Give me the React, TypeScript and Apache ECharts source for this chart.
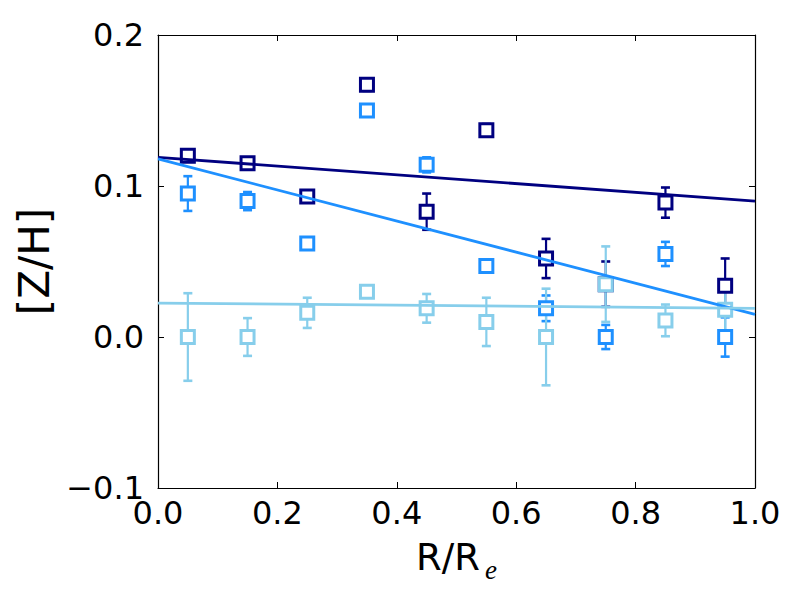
import React, { useEffect, useRef } from "react";
import * as echarts from "echarts";

const radii = [0.05, 0.15, 0.25, 0.35, 0.45, 0.55, 0.65, 0.75, 0.85, 0.95];

const navyValues = [0.12, 0.115, 0.093, 0.167, 0.083, 0.137, 0.052, 0.035, 0.089, 0.034];
const navyErrors = [0.003, 0.003, 0.003, 0.004, 0.012, 0.004, 0.013, 0.015, 0.01, 0.018];

const blueValues = [0.095, 0.09, 0.062, 0.15, 0.114, 0.047, 0.019, 0.0, 0.055, 0.0];
const blueErrors = [0.0115, 0.006, 0.003, 0.004, 0.005, 0.004, 0.0085, 0.008, 0.008, 0.013];

const skyValues = [0.0, 0.0, 0.016, 0.03, 0.019, 0.01, 0.0, 0.035, 0.011, 0.018];
const skyErrors = [0.029, 0.0125, 0.01, 0.003, 0.0095, 0.016, 0.032, 0.025, 0.0105, 0.018];

const navyFit = [[0, 0.119], [1, 0.09]];
const blueFit = [[0, 0.118], [1, 0.015]];
const skyFit = [[0, 0.0225], [1, 0.019]];

const xTitleMain = "R/R";
const xTitleSub = "e";
const yTitle = "[Z/H]";

const NAVY = "#000080";
const BLUE = "#1E90FF";
const SKY = "#87CEEB";

const FONT = "DejaVu Sans";

function errorSeries(values: number[], errors: number[], color: string, z: number) {
  return {
    type: "custom",
    z,
    silent: true,
    data: radii.map((r, i) => [r, values[i], errors[i]]),
    renderItem: (params: any, api: any) => {
      const x = api.value(0);
      const y = api.value(1);
      const e = api.value(2);
      const top = api.coord([x, y + e]);
      const bot = api.coord([x, y - e]);
      const w = 4.5;
      const style = { stroke: color, lineWidth: 2.2 };
      const capStyle = { stroke: color, lineWidth: 2.6 };
      return {
        type: "group",
        children: [
          { type: "line", shape: { x1: top[0], y1: top[1], x2: bot[0], y2: bot[1] }, style },
          { type: "line", shape: { x1: top[0] - w, y1: top[1], x2: top[0] + w, y2: top[1] }, style: capStyle },
          { type: "line", shape: { x1: bot[0] - w, y1: bot[1], x2: bot[0] + w, y2: bot[1] }, style: capStyle },
        ],
      };
    },
  };
}

function squareSeries(values: number[], color: string, z: number) {
  return {
    type: "scatter",
    z,
    symbol: "rect",
    symbolSize: 13,
    itemStyle: { color: "#ffffff", borderColor: color, borderWidth: 3, opacity: 1 },
    data: radii.map((r, i) => [r, values[i]]),
  };
}

function fitSeries(points: number[][], color: string) {
  return {
    type: "line",
    z: 10,
    showSymbol: false,
    symbol: "none",
    lineStyle: { color, width: 2.8 },
    data: points,
  };
}

const fmtX = (v: number) => v.toFixed(1);
const fmtY = (v: number) => (v < 0 ? "\u2212" + Math.abs(v).toFixed(1) : v.toFixed(1));

export default function App() {
  const ref = useRef<HTMLDivElement>(null);
  useEffect(() => {
    if (!ref.current) return;
    const chart = echarts.init(ref.current, null, { renderer: "svg" });
    const tickStyle = { show: true, inside: true, length: 6, lineStyle: { color: "#000", width: 1 } };
    const lineStyle = { show: true, onZero: false, lineStyle: { color: "#000", width: 1.2 } };
    chart.setOption({
      animation: false,
      backgroundColor: "#ffffff",
      grid: { left: 158, right: 45, top: 35, bottom: 112, containLabel: false },
      graphic: [
        {
          type: "text",
          left: 416,
          top: 539,
          style: { text: xTitleMain, font: `37px "${FONT}"`, fill: "#000" },
        },
        {
          type: "text",
          left: 485,
          top: 556,
          style: { text: xTitleSub, font: `italic 27px "Liberation Serif"`, fill: "#000" },
        },
      ],
      xAxis: [
        {
          type: "value",
          position: "bottom",
          min: 0,
          max: 1,
          interval: 0.2,
          axisLine: lineStyle,
          axisTick: tickStyle,
          splitLine: { show: false },
          axisLabel: { fontSize: 32, fontFamily: FONT, color: "#000", margin: 9, formatter: fmtX },
        },
        {
          type: "value",
          position: "top",
          min: 0,
          max: 1,
          interval: 0.2,
          axisLine: lineStyle,
          axisTick: tickStyle,
          axisLabel: { show: false },
          splitLine: { show: false },
        },
      ],
      yAxis: [
        {
          type: "value",
          position: "left",
          min: -0.1,
          max: 0.2,
          interval: 0.1,
          axisLine: lineStyle,
          axisTick: tickStyle,
          splitLine: { show: false },
          axisLabel: { fontSize: 32, fontFamily: FONT, color: "#000", margin: 14, formatter: fmtY },
          name: yTitle,
          nameLocation: "middle",
          nameGap: 100,
          nameTextStyle: { fontSize: 42, fontFamily: FONT, color: "#000" },
        },
        {
          type: "value",
          position: "right",
          min: -0.1,
          max: 0.2,
          interval: 0.1,
          axisLine: lineStyle,
          axisTick: tickStyle,
          axisLabel: { show: false },
          splitLine: { show: false },
        },
      ],
      series: [
        errorSeries(navyValues, navyErrors, NAVY, 2),
        errorSeries(blueValues, blueErrors, BLUE, 2),
        errorSeries(skyValues, skyErrors, SKY, 2),
        squareSeries(navyValues, NAVY, 3),
        squareSeries(blueValues, BLUE, 4),
        squareSeries(skyValues, SKY, 5),
        fitSeries(navyFit, NAVY),
        fitSeries(blueFit, BLUE),
        fitSeries(skyFit, SKY),
      ],
    });
    return () => chart.dispose();
  }, []);
  return (
    <div
      ref={ref}
      style={{ position: "fixed", left: 0, top: 0, width: 800, height: 600, background: "#fff" }}
    />
  );
}
